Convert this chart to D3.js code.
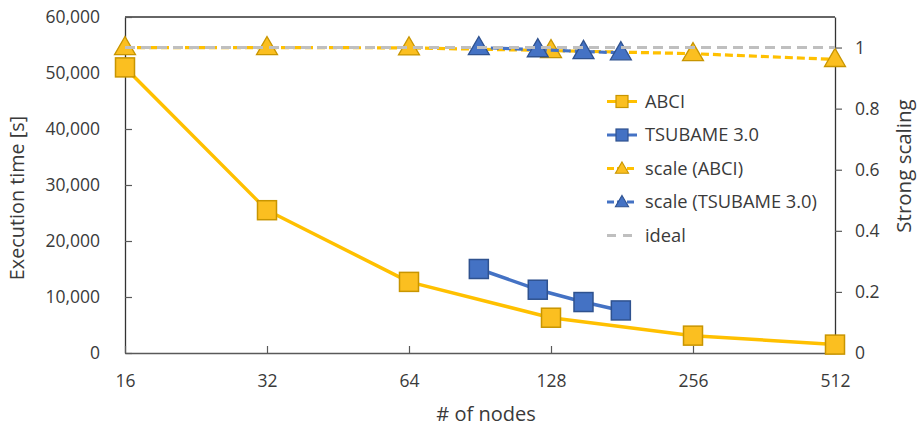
<!DOCTYPE html>
<html>
<head>
<meta charset="utf-8">
<script src="https://cdn.jsdelivr.net/npm/d3@7"></script>
<style>
  html, body { margin: 0; padding: 0; background: #fff; }
  text { font-family: "Open Sans", "Noto Sans", sans-serif; fill: #3a3a3a; }
</style>
</head>
<body>
<svg id="chart" width="917" height="426"></svg>
<script>
// ---- data ----
const xTicks = [16, 32, 64, 128, 256, 512];
const abciNodes = [16, 32, 64, 128, 256, 512];
const abciTime = [51000, 25500, 12700, 6300, 3100, 1500];
const abciScale = [1.0, 1.0, 0.999, 0.99, 0.98, 0.961];
const tsubameNodes = [90, 120, 150, 180];
const tsubameTime = [15000, 11300, 9100, 7600];
const tsubameScale = [1.0, 0.993, 0.987, 0.983];
const idealNodes = [16, 512];
const idealScale = [1, 1];
const leftTicks = [0, 10000, 20000, 30000, 40000, 50000, 60000];
const rightTicks = [0, 0.2, 0.4, 0.6, 0.8, 1];
const legendLabels = ["ABCI", "TSUBAME 3.0", "scale (ABCI)", "scale (TSUBAME 3.0)", "ideal"];

// ---- layout ----
const svg = d3.select("#chart");
const L = 125, R = 835, T = 17, B = 353;
const x = d3.scaleLog().base(2).domain([16, 512]).range([L, R]);
const yL = d3.scaleLinear().domain([0, 60000]).range([B, T]);
const yR = d3.scaleLinear().domain([0, 1.1]).range([B, T]);

const YEL = "#FFC000", YEL_D = "#C89500";
const BLU = "#4472C4", BLU_D = "#2F528F";
const GRY = "#BFBFBF";

// frame top
svg.append("line").attr("x1", L).attr("x2", R).attr("y1", T).attr("y2", T)
  .attr("stroke", "#333").attr("stroke-width", 1.3);

// axes
const fmt = d3.format(",");
const gL = svg.append("g").attr("transform", `translate(${L},0)`)
  .call(d3.axisLeft(yL).tickValues(leftTicks).tickFormat(fmt).tickSizeInner(-7).tickSizeOuter(0).tickPadding(25));
const gR = svg.append("g").attr("transform", `translate(${R},0)`)
  .call(d3.axisRight(yR).tickValues(rightTicks).tickFormat(d => d === 0 || d === 1 ? String(d) : d3.format(".1f")(d)).tickSizeInner(7).tickSizeOuter(0).tickPadding(13));
const gB = svg.append("g").attr("transform", `translate(0,${B})`)
  .call(d3.axisBottom(x).tickValues(xTicks).tickFormat(d => d).tickSizeInner(-7).tickSizeOuter(0).tickPadding(22));

[gL, gR, gB].forEach(g => {
  g.selectAll(".domain").attr("stroke", "#333").attr("stroke-width", 1.3);
  g.selectAll(".tick line").attr("stroke", "#595959").attr("stroke-width", 1.2);
  g.selectAll(".tick text").attr("font-size", 17.5).attr("fill", "#3a3a3a")
    .attr("font-family", '"Open Sans", "Noto Sans", sans-serif');
});
gB.selectAll(".domain").attr("stroke", "#595959");

// axis titles
svg.append("text").attr("transform", `translate(24,198) rotate(-90)`)
  .attr("text-anchor", "middle").attr("font-size", 19.8).text("Execution time [s]");
svg.append("text").attr("transform", `translate(911,166) rotate(-90)`)
  .attr("text-anchor", "middle").attr("font-size", 20.5).text("Strong scaling");
svg.append("text").attr("x", 486).attr("y", 421)
  .attr("text-anchor", "middle").attr("font-size", 20).text("# of nodes");

// series helpers
function zip(xs, ys) { return xs.map((v, i) => [v, ys[i]]); }
function drawLine(pts, ys, color, width, dash) {
  svg.append("path").datum(pts)
    .attr("d", d3.line().x(d => x(d[0])).y(d => ys(d[1])))
    .attr("fill", "none").attr("stroke", color).attr("stroke-width", width)
    .attr("stroke-dasharray", dash || null).attr("stroke-linejoin", "round");
}
function squares(pts, ys, fill, stroke, size) {
  svg.append("g").selectAll("rect").data(pts).join("rect")
    .attr("x", d => x(d[0]) - size / 2).attr("y", d => ys(d[1]) - size / 2)
    .attr("width", size).attr("height", size)
    .attr("fill", fill).attr("stroke", stroke).attr("stroke-width", 1.5);
}
function triangles(pts, ys, fill, stroke, size) {
  const sym = d3.symbol().type(d3.symbolTriangle).size(size);
  svg.append("g").selectAll("path").data(pts).join("path")
    .attr("transform", d => `translate(${x(d[0])},${ys(d[1]) + 1})`)
    .attr("d", sym).attr("fill", fill).attr("stroke", stroke).attr("stroke-width", 1.3);
}

const abciT = zip(abciNodes, abciTime);
const tsuT = zip(tsubameNodes, tsubameTime);
const abciS = zip(abciNodes, abciScale);
const tsuS = zip(tsubameNodes, tsubameScale);
const ideal = zip(idealNodes, idealScale);

drawLine(abciT, yL, YEL, 3.5);
squares(abciT, yL, "#FBBF20", YEL_D, 19);
drawLine(tsuT, yL, BLU, 3.5);
squares(tsuT, yL, "#4472C4", BLU_D, 19);

drawLine(abciS, yR, YEL, 3.2, "8,4");
triangles(abciS, yR, "#FBBF20", YEL_D, 190);
drawLine(tsuS, yR, BLU, 3.2, "8,4");
triangles(tsuS, yR, "#4472C4", BLU_D, 190);
drawLine(ideal, yR, GRY, 3, "10,6");

// legend
const lg = svg.append("g");
const rowY = [101.5, 135, 168.5, 202, 235.5];
const styles = [
  {c: YEL, m: "sq", f: "#FBBF20", s: YEL_D, dash: null},
  {c: BLU, m: "sq", f: "#4472C4", s: BLU_D, dash: null},
  {c: YEL, m: "tri", f: "#FBBF20", s: YEL_D, dash: "8,4"},
  {c: BLU, m: "tri", f: "#4472C4", s: BLU_D, dash: "8,4"},
  {c: GRY, m: null, dash: "10,6"}
];
legendLabels.forEach((lab, i) => {
  const y = rowY[i], st = styles[i];
  lg.append("line").attr("x1", 607).attr("x2", 637).attr("y1", y).attr("y2", y)
    .attr("stroke", st.c).attr("stroke-width", 3).attr("stroke-dasharray", i === 4 ? "9,7" : (st.dash ? "7,3" : null));
  if (st.m === "sq") {
    lg.append("rect").attr("x", 622 - 6).attr("y", y - 6).attr("width", 12).attr("height", 12)
      .attr("fill", st.f).attr("stroke", st.s).attr("stroke-width", 1.2);
  } else if (st.m === "tri") {
    lg.append("path").attr("transform", `translate(622,${y + 1})`)
      .attr("d", d3.symbol().type(d3.symbolTriangle).size(75)())
      .attr("fill", st.f).attr("stroke", st.s).attr("stroke-width", 1.1);
  }
  lg.append("text").attr("x", 645).attr("y", y).attr("dy", "0.35em")
    .attr("font-size", 18.3).text(lab);
});
</script>
</body>
</html>
